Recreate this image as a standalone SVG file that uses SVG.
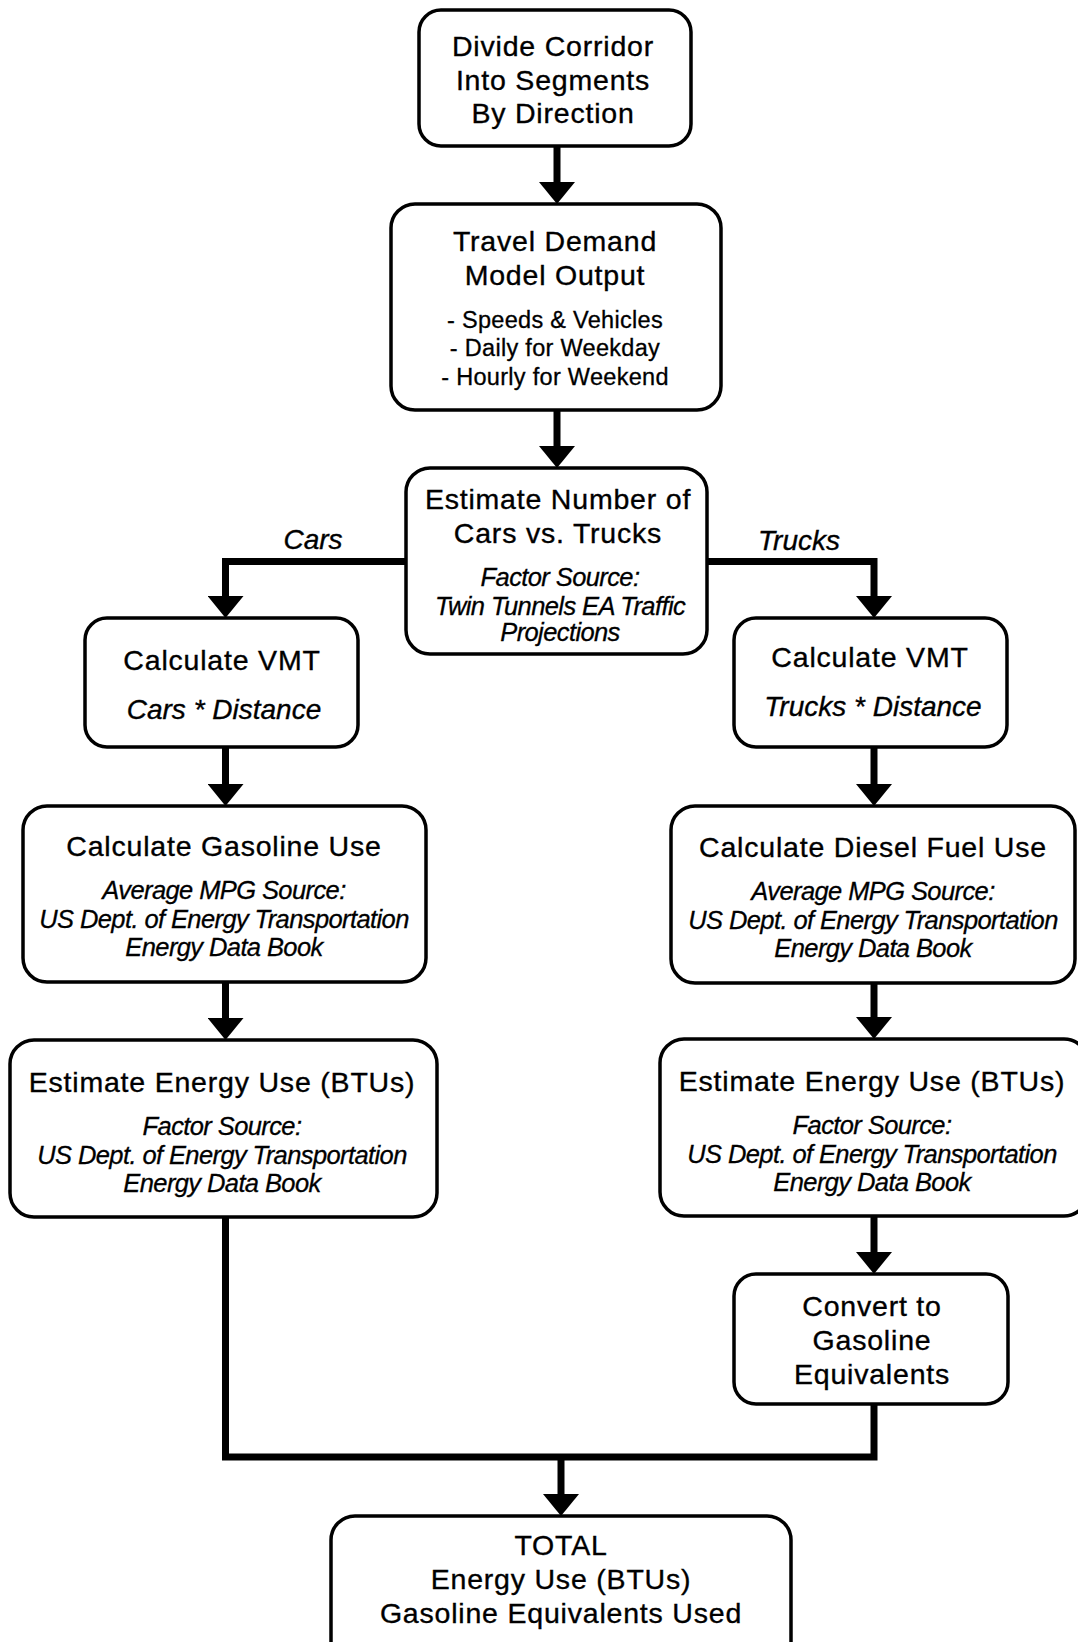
<svg xmlns="http://www.w3.org/2000/svg" width="1078" height="1642" viewBox="0 0 1078 1642">
<defs>
<style>
.box{fill:#fff;stroke:#000;stroke-width:3.5}
.t{font-family:"Liberation Sans",Arial,Helvetica,sans-serif;font-size:28.5px;letter-spacing:0.8px;text-anchor:middle;fill:#000;stroke:#000;stroke-width:0.35}
.b{font-family:"Liberation Sans",Arial,Helvetica,sans-serif;font-size:23.5px;letter-spacing:0.3px;text-anchor:middle;fill:#000;stroke:#000;stroke-width:0.3}
.i{font-family:"Liberation Sans",Arial,Helvetica,sans-serif;font-size:25.5px;font-style:italic;letter-spacing:-0.6px;text-anchor:middle;fill:#000;stroke:#000;stroke-width:0.3}
.il{font-family:"Liberation Sans",Arial,Helvetica,sans-serif;font-size:28px;font-style:italic;text-anchor:middle;fill:#000;stroke:#000;stroke-width:0.35}
.c{fill:none;stroke:#000;stroke-width:7;stroke-linejoin:miter;stroke-linecap:butt}
</style>
<marker id="ah" viewBox="0 -18 22 36" refX="0" refY="0" markerWidth="22" markerHeight="36" markerUnits="userSpaceOnUse" orient="auto">
<path d="M0,-18 L22,0 L0,18 z" fill="#000"/>
</marker>
</defs>
<rect width="1078" height="1642" fill="#fff"/>

<g id="connectors">
<path class="c" d="M557,146 V182" marker-end="url(#ah)"/>
<path class="c" d="M557,410 V446" marker-end="url(#ah)"/>
<path class="c" d="M406,561.5 H225.5 V596" marker-end="url(#ah)"/>
<path class="c" d="M707,561.5 H874 V596" marker-end="url(#ah)"/>
<path class="c" d="M225.5,747 V784" marker-end="url(#ah)"/>
<path class="c" d="M874,747 V784" marker-end="url(#ah)"/>
<path class="c" d="M225.5,982 V1018" marker-end="url(#ah)"/>
<path class="c" d="M874,983 V1017" marker-end="url(#ah)"/>
<path class="c" d="M874,1216 V1252" marker-end="url(#ah)"/>
<path class="c" d="M225.5,1217 V1457 H874 V1404"/>
<path class="c" d="M561,1457 V1494" marker-end="url(#ah)"/>
<text class="il" x="313" y="549">Cars</text>
<text class="il" x="799" y="550">Trucks</text>
</g>

<g id="divide">
<rect class="box" x="419" y="10" width="272" height="136" rx="22"/>
<text class="t" x="553" y="56">Divide Corridor</text>
<text class="t" x="553" y="90">Into Segments</text>
<text class="t" x="553" y="123">By Direction</text>
</g>

<g id="travel">
<rect class="box" x="391" y="204" width="330" height="206" rx="24"/>
<text class="t" x="555" y="251">Travel Demand</text>
<text class="t" x="555" y="285">Model Output</text>
<text class="b" x="555" y="328">- Speeds &amp; Vehicles</text>
<text class="b" x="555" y="356">- Daily for Weekday</text>
<text class="b" x="555" y="385">- Hourly for Weekend</text>
</g>

<g id="estimate-number">
<rect class="box" x="406" y="468" width="301" height="186" rx="24"/>
<text class="t" x="558" y="509">Estimate Number of</text>
<text class="t" x="558" y="543">Cars vs. Trucks</text>
<text class="i" x="560" y="586">Factor Source:</text>
<text class="i" x="560" y="615">Twin Tunnels EA Traffic</text>
<text class="i" x="560" y="641">Projections</text>
</g>

<g id="vmt-cars">
<rect class="box" x="85" y="618" width="273" height="129" rx="22"/>
<text class="t" x="222" y="670">Calculate VMT</text>
<text class="il" x="224" y="719">Cars * Distance</text>
</g>

<g id="vmt-trucks">
<rect class="box" x="734" y="618" width="273" height="129" rx="22"/>
<text class="t" x="870" y="667">Calculate VMT</text>
<text class="il" x="873" y="716">Trucks * Distance</text>
</g>

<g id="gasoline-use">
<rect class="box" x="23" y="806" width="403" height="176" rx="24"/>
<text class="t" x="224" y="856">Calculate Gasoline Use</text>
<text class="i" x="224" y="899">Average MPG Source:</text>
<text class="i" x="224" y="928">US Dept. of Energy Transportation</text>
<text class="i" x="224" y="956">Energy Data Book</text>
</g>

<g id="diesel-use">
<rect class="box" x="671" y="806" width="404" height="177" rx="24"/>
<text class="t" x="873" y="857">Calculate Diesel Fuel Use</text>
<text class="i" x="873" y="900">Average MPG Source:</text>
<text class="i" x="873" y="929">US Dept. of Energy Transportation</text>
<text class="i" x="873" y="957">Energy Data Book</text>
</g>

<g id="energy-cars">
<rect class="box" x="10" y="1040" width="427" height="177" rx="24"/>
<text class="t" x="222" y="1092">Estimate Energy Use (BTUs)</text>
<text class="i" x="222" y="1135">Factor Source:</text>
<text class="i" x="222" y="1164">US Dept. of Energy Transportation</text>
<text class="i" x="222" y="1192">Energy Data Book</text>
</g>

<g id="energy-trucks">
<rect class="box" x="660" y="1039" width="428" height="177" rx="24"/>
<text class="t" x="872" y="1091">Estimate Energy Use (BTUs)</text>
<text class="i" x="872" y="1134">Factor Source:</text>
<text class="i" x="872" y="1163">US Dept. of Energy Transportation</text>
<text class="i" x="872" y="1191">Energy Data Book</text>
</g>

<g id="convert">
<rect class="box" x="734" y="1274" width="274" height="130" rx="22"/>
<text class="t" x="872" y="1316">Convert to</text>
<text class="t" x="872" y="1350">Gasoline</text>
<text class="t" x="872" y="1384">Equivalents</text>
</g>

<g id="total">
<rect class="box" x="331" y="1516" width="460" height="150" rx="24"/>
<text class="t" x="561" y="1555">TOTAL</text>
<text class="t" x="561" y="1589">Energy Use (BTUs)</text>
<text class="t" x="561" y="1623">Gasoline Equivalents Used</text>
</g>
</svg>
